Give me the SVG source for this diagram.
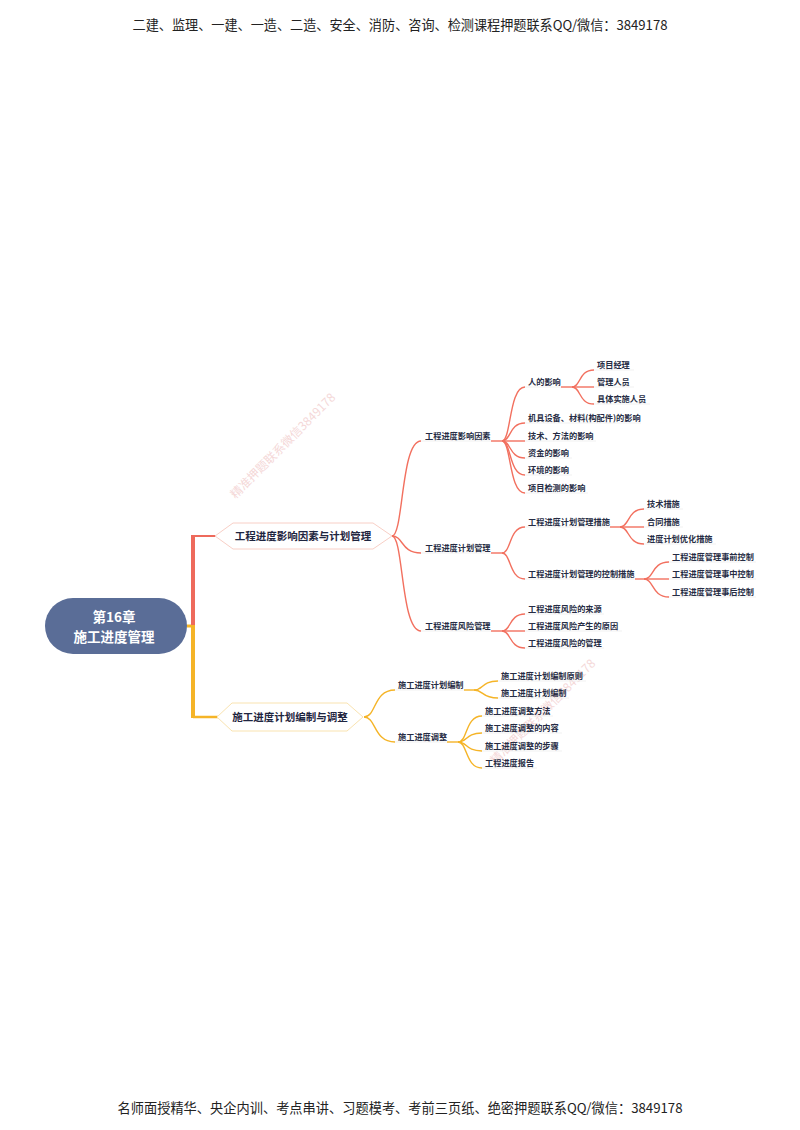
<svg xmlns="http://www.w3.org/2000/svg" width="800" height="1130" viewBox="0 0 800 1130">
<style>
text{font-family:"Noto Sans CJK SC","Noto Sans",sans-serif}
.hdr{font-size:13.2px;fill:#222;text-anchor:middle}
.wm{font-size:12px;fill:#e9a9a9;opacity:.45;text-anchor:middle}
.root{font-size:13.5px;font-weight:bold;fill:#fff;text-anchor:middle}
.l1{font-size:10.5px;font-weight:bold;fill:#1e2540;text-anchor:middle}
.t{font-size:8.2px;font-weight:bold;fill:#262c44}
.r{fill:none;stroke:#f2705f;stroke-width:1.4}
.y{fill:none;stroke:#f5b427;stroke-width:1.4}
.ul{stroke:#eeeeee;stroke-width:.8}
</style>
<rect width="800" height="1130" fill="#fff"/>
<text class="hdr" x="400" y="30" textLength="535" lengthAdjust="spacingAndGlyphs">二建、监理、一建、一造、二造、安全、消防、咨询、检测课程押题联系QQ/微信：3849178</text>
<text class="hdr" x="400" y="1113" textLength="565" lengthAdjust="spacingAndGlyphs">名师面授精华、央企内训、考点串讲、习题模考、考前三页纸、绝密押题联系QQ/微信：3849178</text>
<text class="wm" x="283" y="450" transform="rotate(-45 283 446)">精准押题联系微信3849178</text>
<text class="wm" x="543" y="716" transform="rotate(-45 543 712)">精准押题联系微信3849178</text>
<g id="connectors">
<path d="M187 626 H195" stroke="#f5b427" stroke-width="3" fill="none"/>
<path d="M193 535 V627" stroke="#ee6a5c" stroke-width="4" fill="none"/>
<path d="M193 625 V718" stroke="#f5b427" stroke-width="4" fill="none"/>
<path d="M193 536 H216" stroke="#ee6a5c" stroke-width="2" fill="none"/>
<path d="M193 717 H218" stroke="#f5b427" stroke-width="2.5" fill="none"/>
<path class="r" d="M392 536 C403.6 536 400.7 441 421 441"/>
<path class="r" d="M392 536 C403.6 536 400.7 553 421 553"/>
<path class="r" d="M392 536 C403.6 536 400.7 631 421 631"/>
<path class="r" d="M491 441 H502"/>
<path class="r" d="M491 553 H502"/>
<path class="r" d="M491 631 H502"/>
<path class="r" d="M502 441 C511.2 441 508.9 387 525 387"/>
<path class="r" d="M502 441 C511.2 441 508.9 423 525 423"/>
<path class="r" d="M502 441 H525"/>
<path class="r" d="M502 441 C511.2 441 508.9 458 525 458"/>
<path class="r" d="M502 441 C511.2 441 508.9 475 525 475"/>
<path class="r" d="M502 441 C511.2 441 508.9 493 525 493"/>
<path class="r" d="M561 387 H572"/>
<path class="r" d="M572 387 C580.8 387 578.6 370 594 370"/>
<path class="r" d="M572 387 H594"/>
<path class="r" d="M572 387 C580.8 387 578.6 404 594 404"/>
<path class="r" d="M502 553 C511.2 553 508.9 527 525 527"/>
<path class="r" d="M502 553 C511.2 553 508.9 579 525 579"/>
<path class="r" d="M610 527 H620"/>
<path class="r" d="M620 527 C629.6 527 627.2 509 644 509"/>
<path class="r" d="M620 527 H644"/>
<path class="r" d="M620 527 C629.6 527 627.2 544 644 544"/>
<path class="r" d="M635 579 H644"/>
<path class="r" d="M644 579 C654 579 651.5 562 669 562"/>
<path class="r" d="M644 579 H669"/>
<path class="r" d="M644 579 C654 579 651.5 597 669 597"/>
<path class="r" d="M502 631 C511.2 631 508.9 614 525 614"/>
<path class="r" d="M502 631 H525"/>
<path class="r" d="M502 631 C511.2 631 508.9 648 525 648"/>
<path class="y" d="M364 717 C376.4 717 373.3 690 395 690"/>
<path class="y" d="M364 717 C376.4 717 373.3 742 395 742"/>
<path class="y" d="M464 690 H474"/>
<path class="y" d="M474 690 C483.6 690 481.2 681 498 681"/>
<path class="y" d="M474 690 C483.6 690 481.2 698 498 698"/>
<path class="y" d="M447 742 H458"/>
<path class="y" d="M458 742 C467.6 742 465.2 716 482 716"/>
<path class="y" d="M458 742 C467.6 742 465.2 733 482 733"/>
<path class="y" d="M458 742 C467.6 742 465.2 751 482 751"/>
<path class="y" d="M458 742 C467.6 742 465.2 768 482 768"/>
</g>
<g id="root">
<rect x="45" y="598" width="142" height="56" rx="28" fill="#5a6d97"/>
<text class="root" x="114" y="622">第16章</text>
<text class="root" x="114" y="642">施工进度管理</text>
</g>
<g id="b1">
<polygon points="215,536 233,523 373,523 392,536 373,549 233,549" fill="#fff" stroke="#f8cfc6" stroke-width="1"/>
<text class="l1" x="303" y="540">工程进度影响因素与计划管理</text>
</g>
<g id="b2">
<polygon points="217,717 232,703 347,703 363,717 347,731 232,731" fill="#fff" stroke="#f9e3b0" stroke-width="1"/>
<text class="l1" x="290" y="721">施工进度计划编制与调整</text>
</g>
<g id="n-a"><line class="ul" x1="421" y1="441" x2="491" y2="441"/><text class="t" x="425" y="439">工程进度影响因素</text></g>
<g id="n-a1"><line class="ul" x1="525" y1="387" x2="561" y2="387"/><text class="t" x="528" y="385">人的影响</text></g>
<g id="n-a11"><line class="ul" x1="594" y1="370" x2="634" y2="370"/><text class="t" x="597" y="368">项目经理</text></g>
<g id="n-a12"><line class="ul" x1="594" y1="387" x2="634" y2="387"/><text class="t" x="597" y="385">管理人员</text></g>
<g id="n-a13"><line class="ul" x1="594" y1="404" x2="650" y2="404"/><text class="t" x="597" y="402">具体实施人员</text></g>
<g id="n-a2"><line class="ul" x1="525" y1="423" x2="641" y2="423"/><text class="t" x="528" y="421">机具设备、材料(构配件)的影响</text></g>
<g id="n-a3"><line class="ul" x1="525" y1="441" x2="596" y2="441"/><text class="t" x="528" y="439">技术、方法的影响</text></g>
<g id="n-a4"><line class="ul" x1="525" y1="458" x2="572" y2="458"/><text class="t" x="528" y="456">资金的影响</text></g>
<g id="n-a5"><line class="ul" x1="525" y1="475" x2="572" y2="475"/><text class="t" x="528" y="473">环境的影响</text></g>
<g id="n-a6"><line class="ul" x1="525" y1="493" x2="588" y2="493"/><text class="t" x="528" y="491">项目检测的影响</text></g>
<g id="n-b"><line class="ul" x1="421" y1="553" x2="491" y2="553"/><text class="t" x="425" y="551">工程进度计划管理</text></g>
<g id="n-b1"><line class="ul" x1="525" y1="527" x2="610" y2="527"/><text class="t" x="528" y="525">工程进度计划管理措施</text></g>
<g id="n-b11"><line class="ul" x1="644" y1="509" x2="683" y2="509"/><text class="t" x="647" y="507">技术措施</text></g>
<g id="n-b12"><line class="ul" x1="644" y1="527" x2="683" y2="527"/><text class="t" x="647" y="525">合同措施</text></g>
<g id="n-b13"><line class="ul" x1="644" y1="544" x2="716" y2="544"/><text class="t" x="647" y="542">进度计划优化措施</text></g>
<g id="n-b2"><line class="ul" x1="525" y1="579" x2="635" y2="579"/><text class="t" x="528" y="577">工程进度计划管理的控制措施</text></g>
<g id="n-b21"><line class="ul" x1="669" y1="562" x2="756" y2="562"/><text class="t" x="672" y="560">工程进度管理事前控制</text></g>
<g id="n-b22"><line class="ul" x1="669" y1="579" x2="756" y2="579"/><text class="t" x="672" y="577">工程进度管理事中控制</text></g>
<g id="n-b23"><line class="ul" x1="669" y1="597" x2="756" y2="597"/><text class="t" x="672" y="595">工程进度管理事后控制</text></g>
<g id="n-c"><line class="ul" x1="421" y1="631" x2="491" y2="631"/><text class="t" x="425" y="629">工程进度风险管理</text></g>
<g id="n-c1"><line class="ul" x1="525" y1="614" x2="604" y2="614"/><text class="t" x="528" y="612">工程进度风险的来源</text></g>
<g id="n-c2"><line class="ul" x1="525" y1="631" x2="622" y2="631"/><text class="t" x="528" y="629">工程进度风险产生的原因</text></g>
<g id="n-c3"><line class="ul" x1="525" y1="648" x2="604" y2="648"/><text class="t" x="528" y="646">工程进度风险的管理</text></g>
<g id="n-d"><line class="ul" x1="395" y1="690" x2="464" y2="690"/><text class="t" x="398" y="688">施工进度计划编制</text></g>
<g id="n-d1"><line class="ul" x1="498" y1="681" x2="586" y2="681"/><text class="t" x="501" y="679">施工进度计划编制原则</text></g>
<g id="n-d2"><line class="ul" x1="498" y1="698" x2="569" y2="698"/><text class="t" x="501" y="696">施工进度计划编制</text></g>
<g id="n-e"><line class="ul" x1="395" y1="742" x2="447" y2="742"/><text class="t" x="398" y="740">施工进度调整</text></g>
<g id="n-e1"><line class="ul" x1="482" y1="716" x2="553" y2="716"/><text class="t" x="485" y="714">施工进度调整方法</text></g>
<g id="n-e2"><line class="ul" x1="482" y1="733" x2="562" y2="733"/><text class="t" x="485" y="731">施工进度调整的内容</text></g>
<g id="n-e3"><line class="ul" x1="482" y1="751" x2="562" y2="751"/><text class="t" x="485" y="749">施工进度调整的步骤</text></g>
<g id="n-e4"><line class="ul" x1="482" y1="768" x2="537" y2="768"/><text class="t" x="485" y="766">工程进度报告</text></g>
</svg>
